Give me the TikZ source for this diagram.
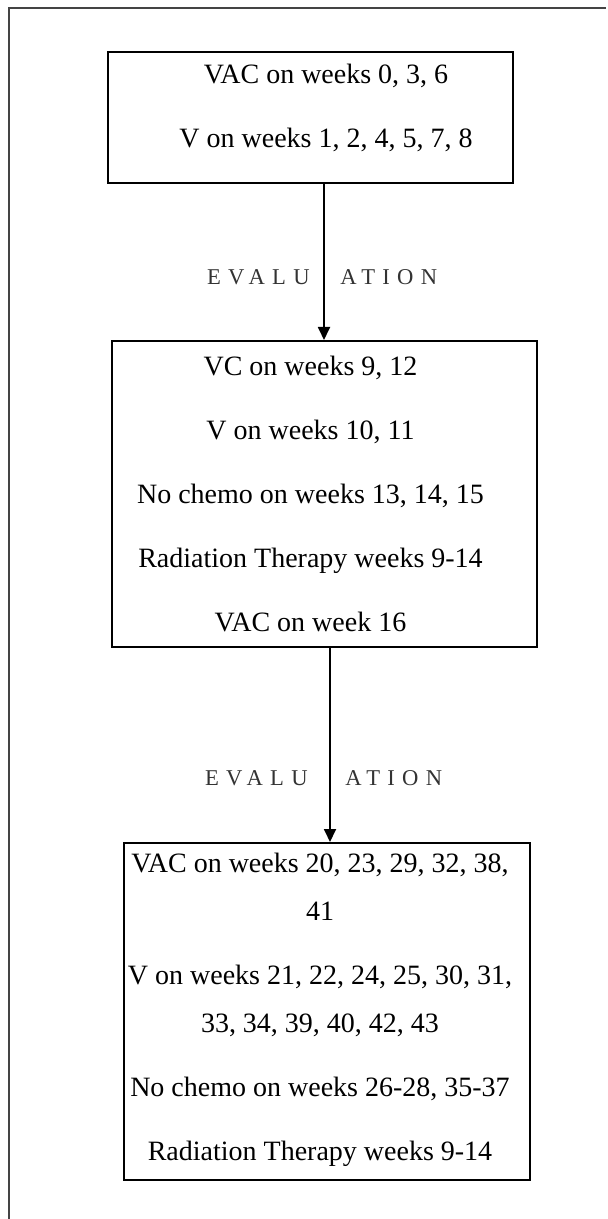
\documentclass[tikz,border=0pt]{standalone}
\usepackage{fontspec}
\setmainfont{Liberation Serif}
\usetikzlibrary{arrows.meta}
\definecolor{framegray}{HTML}{444444}
\definecolor{evalgray}{HTML}{333333}
\begin{document}
\begin{tikzpicture}[x=0.5pt, y=-0.5pt,
    box/.style={draw, line width=1pt, inner sep=0pt},
    txt/.style={align=center, inner sep=0pt, font=\fontsize{14}{24}\selectfont},
    evaltxt/.style={inner sep=0pt, text=evalgray, font=\fontsize{11.3}{12}\selectfont\addfontfeature{LetterSpace=32}},
    flow/.style={-{Triangle[width=6pt,length=6.5pt]}, line width=0.9pt}]
    \useasboundingbox (0,0) rectangle (607,1219);
    % page frame
    \draw[line width=1pt, framegray] (9,1219) -- (9,8) -- (606,8);

    % boxes
    \node[box, minimum width=202.5pt, minimum height=65.5pt] (b1) at (310.5,117.5) {};
    \node[box, minimum width=212.5pt, minimum height=153pt] (b2) at (324.5,494) {};
    \node[box, minimum width=203pt, minimum height=168.5pt] (b3) at (327,1011.5) {};

    \node[txt] (t1) at (326,107.5) {VAC on weeks 0, 3, 6\\[8pt]V on weeks 1, 2, 4, 5, 7, 8};
    \node[txt] (t2) at (310.5,493.5) {VC on weeks 9, 12\\[8pt]V on weeks 10, 11\\[8pt]No chemo on weeks 13, 14, 15\\[8pt]Radiation Therapy weeks 9-14\\[8pt]VAC on week 16};
    \node[txt] (t3) at (320,1009.5) {VAC on weeks 20, 23, 29, 32, 38,\\41\\[8pt]V on weeks 21, 22, 24, 25, 30, 31,\\33, 34, 39, 40, 42, 43\\[8pt]No chemo on weeks 26-28, 35-37\\[8pt]Radiation Therapy weeks 9-14};

    % arrows
    \coordinate (a1) at (324,0);
    \coordinate (a2) at (330,0);
    \draw[flow] (a1 |- b1.south) -- (a1 |- b2.north);
    \draw[flow] (a2 |- b2.south) -- (a2 |- b3.north);

    \node[evaltxt, anchor=east] (ev1a) at (310,277) {EVALU};
    \node[evaltxt, anchor=west] (ev1b) at (340,277) {ATION};
    \node[evaltxt, anchor=east] (ev2a) at (308,778) {EVALU};
    \node[evaltxt, anchor=west] (ev2b) at (345,778) {ATION};
\end{tikzpicture}
\end{document}
